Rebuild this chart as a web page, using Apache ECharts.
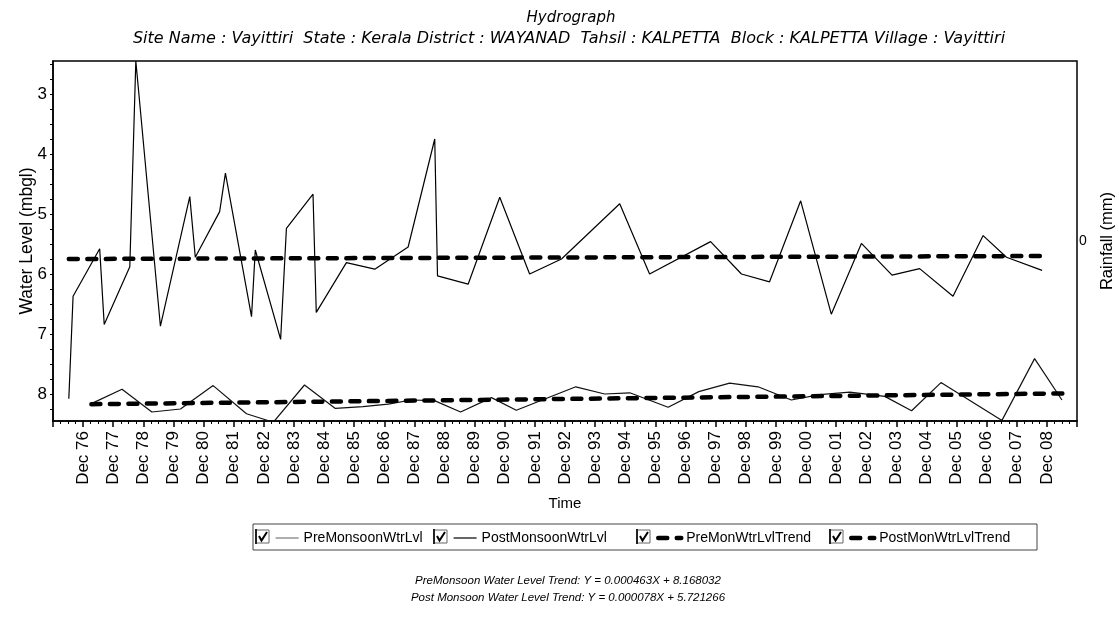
<!DOCTYPE html>
<html>
<head>
<meta charset="utf-8">
<title>Hydrograph</title>
<script src="https://cdn.jsdelivr.net/npm/echarts@6.0.0/dist/echarts.min.js"></script>
<style>
  html, body { margin: 0; padding: 0; background: #fff; }
  #chart { width: 1119px; height: 617px; }
</style>
</head>
<body>
<div id="chart"></div>
<script>
// time is counted in months from Dec 1975 (Dec 76 = 12 ... Dec 08 = 396)
const yearLabels = ['Dec 76', 'Dec 77', 'Dec 78', 'Dec 79', 'Dec 80', 'Dec 81', 'Dec 82', 'Dec 83',
  'Dec 84', 'Dec 85', 'Dec 86', 'Dec 87', 'Dec 88', 'Dec 89', 'Dec 90', 'Dec 91', 'Dec 92',
  'Dec 93', 'Dec 94', 'Dec 95', 'Dec 96', 'Dec 97', 'Dec 98', 'Dec 99', 'Dec 00', 'Dec 01',
  'Dec 02', 'Dec 03', 'Dec 04', 'Dec 05', 'Dec 06', 'Dec 07', 'Dec 08']
const levelTicks = [3, 4, 5, 6, 7, 8]

// pre monsoon water level (lower curve)
const preMonths = [15.3, 27.5, 39.4, 50.8, 63.8, 77.1, 87.8, 100.2, 112.5, 123.5, 133.6, 142.8,
  152.0, 162.4, 174.7, 184.6, 208.3, 219.8, 229.8, 245.1, 257.3, 269.6, 280.9, 294.2, 305.5,
  317.5, 331.4, 342.1, 353.8, 378.1, 391.1, 402.0]
const preLevels = [8.16, 7.92, 8.30, 8.25, 7.86, 8.33, 8.47, 7.85, 8.24, 8.21, 8.17, 8.10,
  8.11, 8.30, 8.06, 8.27, 7.88, 8.00, 7.98, 8.22, 7.96, 7.82, 7.88, 8.10, 8.01,
  7.97, 8.04, 8.28, 7.81, 8.44, 7.41, 8.10]

// post monsoon water level (upper curve)
const postMonths = [6.3, 8.0, 18.6, 20.4, 30.6, 33.0, 42.8, 54.5, 56.7, 66.4, 68.7, 79.1, 80.6,
  90.7, 93.0, 103.6, 104.9, 116.9, 128.2, 141.5, 152.1, 153.2, 165.4, 178.0, 189.9, 202.6,
  225.8, 237.7, 262.0, 274.3, 285.5, 297.9, 310.1, 322.1, 334.3, 345.3, 358.6, 370.6, 379.9, 394.1]
const postLevels = [8.08, 6.37, 5.58, 6.84, 5.88, 2.45, 6.87, 4.71, 5.72, 4.96, 4.32, 6.71, 5.60,
  7.09, 5.24, 4.67, 6.64, 5.81, 5.92, 5.55, 3.75, 6.03, 6.17, 4.72, 6.00, 5.75,
  4.83, 6.00, 5.46, 6.00, 6.13, 4.78, 6.67, 5.49, 6.02, 5.91, 6.37, 5.36, 5.72, 5.94]

// trend lines (end points)
const preTrendMonths = [15.3, 403]
const preTrendLevels = [8.17, 7.99]
const postTrendMonths = [6.3, 395]
const postTrendLevels = [5.75, 5.70]

const zip = (xs, ys) => xs.map((x, i) => [x, ys[i]])
const font = 'Liberation Sans, Arial, sans-serif'
const titleFont = 'DejaVu Sans, sans-serif'

const quarterTicks = []
for (let v = 2.5; v <= 8.45; v += 0.25) quarterTicks.push(+v.toFixed(2))

const chart = echarts.init(document.getElementById('chart'))

// checkbox boxes in front of every legend entry
const boxY = 530
const boxes = [256, 434, 637, 830].map(x => ({
  type: 'group',
  children: [
    { type: 'rect', shape: { x: x, y: boxY, width: 13, height: 13 }, style: { fill: '#fff', stroke: '#666', lineWidth: 1 } },
    { type: 'line', shape: { x1: x, y1: boxY - 1, x2: x, y2: boxY + 14 }, style: { stroke: '#222', lineWidth: 2 } },
    { type: 'polyline', shape: { points: [[x + 3, boxY + 6], [x + 5.5, boxY + 10.5], [x + 11, boxY + 2]] }, style: { stroke: '#000', lineWidth: 2, fill: null } }
  ]
}))

const legendBase = {
  top: 531,
  padding: 0,
  itemWidth: 23,
  itemHeight: 12,
  itemGap: 0,
  itemStyle: { opacity: 0 },
  lineStyle: { width: 'inherit' },
  textStyle: { color: '#000', fontFamily: font, fontSize: 14 }
}

const option = {
  backgroundColor: '#fff',
  animation: false,
  title: [
    {
      text: 'Hydrograph',
      left: 566,
      textAlign: 'center',
      top: 6,
      textStyle: { fontFamily: titleFont, fontSize: 15, fontStyle: 'italic', fontWeight: 'normal', color: '#000' }
    },
    {
      text: 'Site Name : Vayittiri  State : Kerala District : WAYANAD  Tahsil : KALPETTA  Block : KALPETTA Village : Vayittiri',
      left: 564,
      textAlign: 'center',
      top: 26,
      textStyle: { fontFamily: titleFont, fontSize: 16, fontStyle: 'italic', fontWeight: 'normal', color: '#000' }
    }
  ],
  legend: [
    Object.assign({ left: 275, data: [{ name: 'PreMonsoonWtrLvl', lineStyle: { color: '#777', width: 1.2 } }] }, legendBase),
    Object.assign({ left: 453, data: ['PostMonsoonWtrLvl'] }, legendBase),
    Object.assign({ left: 656, data: ['PreMonWtrLvlTrend'] }, legendBase),
    Object.assign({ left: 849, data: ['PostMonWtrLvlTrend'] }, legendBase)
  ],
  grid: {
    left: 53,
    right: 42,
    top: 61,
    bottom: 196,
    outerBoundsMode: 'none',
    show: true,
    borderColor: '#000',
    borderWidth: 1.5
  },
  xAxis: {
    type: 'value',
    min: 0,
    max: 408,
    interval: 12,
    name: 'Time',
    nameLocation: 'middle',
    nameGap: 75,
    nameMoveOverlap: false,
    nameTextStyle: { fontFamily: font, fontSize: 15, color: '#000' },
    axisLine: { show: true, onZero: false, lineStyle: { color: '#000', width: 1.5 } },
    axisTick: { show: true, length: 6, lineStyle: { color: '#000', width: 1.5 } },
    minorTick: { show: true, splitNumber: 4, length: 3, lineStyle: { color: '#000', width: 1 } },
    splitLine: { show: false },
    axisLabel: {
      rotate: 90,
      margin: 10,
      fontFamily: font,
      fontSize: 17,
      color: '#000',
      formatter: v => (v >= 12 && v <= 396 ? yearLabels[v / 12 - 1] : '')
    }
  },
  yAxis: [
    {
      type: 'value',
      inverse: true,
      min: 2.45,
      max: 8.45,
      name: 'Water Level (mbgl)',
      nameLocation: 'middle',
      nameRotate: 90,
      nameGap: 17,
      nameMoveOverlap: false,
      nameTextStyle: { fontFamily: font, fontSize: 17.5, color: '#000' },
      axisLine: { show: true, onZero: false, lineStyle: { color: '#000', width: 1.5 } },
      axisTick: { show: true, length: 3, customValues: quarterTicks, lineStyle: { color: '#000' } },
      splitLine: { show: false },
      axisLabel: { customValues: levelTicks, margin: 6, fontFamily: font, fontSize: 17, color: '#000' }
    },
    {
      type: 'value',
      position: 'right',
      min: -1,
      max: 1,
      name: 'Rainfall (mm)',
      nameLocation: 'middle',
      nameRotate: 90,
      nameGap: 22,
      nameMoveOverlap: false,
      nameTextStyle: { fontFamily: font, fontSize: 16.5, color: '#000' },
      axisLine: { show: false },
      axisTick: { show: false },
      splitLine: { show: false },
      axisLabel: { customValues: [0], margin: 2, fontFamily: font, fontSize: 14, color: '#000' }
    }
  ],
  graphic: [
    { type: 'rect', shape: { x: 253, y: 524, width: 784, height: 26 }, style: { fill: null, stroke: '#444', lineWidth: 1 } },
    ...boxes,
    {
      type: 'text', x: 568, y: 575,
      style: { text: 'PreMonsoon Water Level Trend: Y = 0.000463X + 8.168032', align: 'center', fontFamily: font, fontSize: 11.5, fontStyle: 'italic', fill: '#000' }
    },
    {
      type: 'text', x: 568, y: 592,
      style: { text: 'Post Monsoon Water Level Trend: Y = 0.000078X + 5.721266', align: 'center', fontFamily: font, fontSize: 11.5, fontStyle: 'italic', fill: '#000' }
    }
  ],
  series: [
    {
      name: 'PreMonsoonWtrLvl',
      type: 'line',
      symbol: 'none',
      data: zip(preMonths, preLevels),
      lineStyle: { color: '#111', width: 1.2 },
      itemStyle: { color: '#111' }
    },
    {
      name: 'PostMonsoonWtrLvl',
      type: 'line',
      symbol: 'none',
      data: zip(postMonths, postLevels),
      lineStyle: { color: '#000', width: 1.2 },
      itemStyle: { color: '#000' }
    },
    {
      name: 'PreMonWtrLvlTrend',
      type: 'line',
      symbol: 'none',
      data: zip(preTrendMonths, preTrendLevels),
      lineStyle: { color: '#000', width: 4.5, type: [9, 9.5], cap: 'round' },
      itemStyle: { color: '#000' }
    },
    {
      name: 'PostMonWtrLvlTrend',
      type: 'line',
      symbol: 'none',
      data: zip(postTrendMonths, postTrendLevels),
      lineStyle: { color: '#000', width: 4.5, type: [9, 9.5], cap: 'round' },
      itemStyle: { color: '#000' }
    }
  ]
}

chart.setOption(option)
</script>
</body>
</html>
